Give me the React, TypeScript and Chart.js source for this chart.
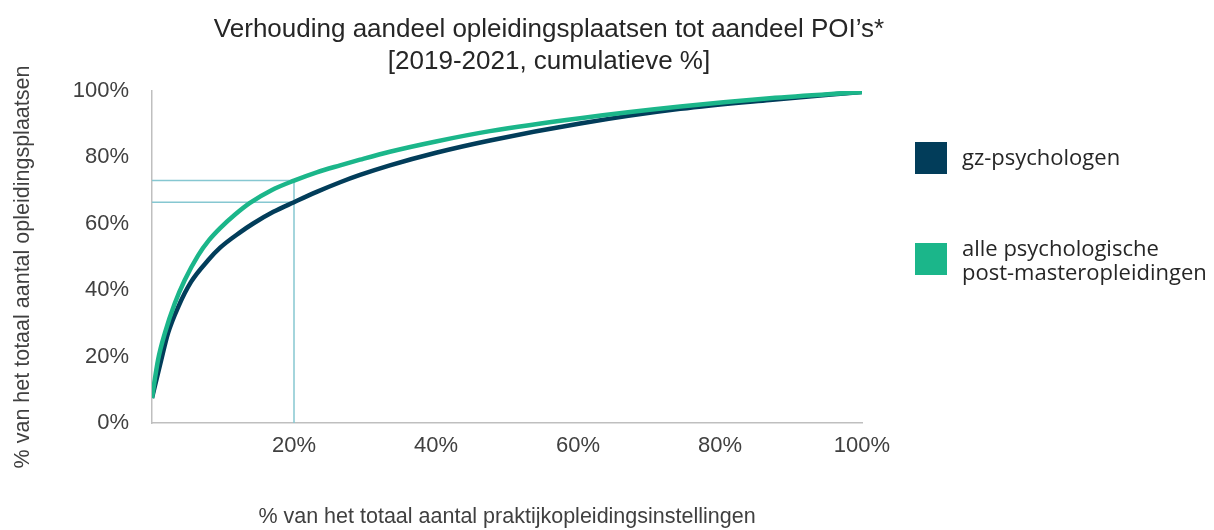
import React, { useEffect, useRef } from 'react';
import { Chart, registerables } from 'chart.js';

Chart.register(...registerables);

// ---- data (percent) ----
const gzX = [0, 1.3, 2.25, 3.7, 5.5, 7.9, 9.6, 12.4, 14.2, 17.1, 20, 23.2, 26.5, 29.3, 33.5, 40, 47.6, 60.3, 74.4, 87, 100];
const gzY = [7.5, 19, 27, 35, 42.5, 49, 52.8, 57.4, 60.0, 63.6, 66.5, 69.6, 72.5, 74.7, 77.6, 81.4, 85.1, 90.2, 94.6, 97.3, 99.7];

const allX = [0, 0.85, 1.8, 3.2, 4.6, 6.5, 8, 9.6, 11.7, 13.8, 16.9, 20, 23.2, 26.5, 29.3, 33.5, 40, 47.6, 60.3, 74.4, 87, 100];
const allY = [7.5, 19, 27, 36, 43, 50.5, 55, 58.7, 62.8, 66.3, 70.2, 73, 75.5, 77.6, 79.3, 81.7, 84.8, 87.9, 91.8, 95.3, 97.8, 99.7];

// reference lines at 20% of institutions
const refAllX = [0, 20, 20];
const refAllY = [73, 73, 0];
const refGzX = [0, 20];
const refGzY = [66.5, 66.5];

const seriesNames = ['gz-psychologen', 'alle psychologische post-masteropleidingen'];
const legendLines = [['gz-psychologen'], ['alle psychologische', 'post-masteropleidingen']];
const titleLines = ["Verhouding aandeel opleidingsplaatsen tot aandeel POI\u2019s*", '[2019-2021, cumulatieve %]'];
const xTitle = '% van het totaal aantal praktijkopleidingsinstellingen';
const yTitle = '% van het totaal aantal opleidingsplaatsen';

const DARK = '#023D5A';
const GREEN = '#1BB68A';
const REF = '#86C7D1';
const FONT = 'Liberation Sans';

const toPts = (xs: number[], ys: number[]) => xs.map((x, i) => ({ x, y: ys[i] }));

// y-axis title drawn slightly below the plot's vertical centre, as in the reference
const yTitlePlugin = {
  id: 'yTitleOffset',
  afterDraw(chart: any) {
    const { ctx, chartArea } = chart;
    ctx.save();
    ctx.font = `21.5px "${FONT}"`;
    ctx.fillStyle = '#404040';
    ctx.textAlign = 'center';
    ctx.textBaseline = 'middle';
    ctx.translate(23, (chartArea.top + chartArea.bottom) / 2 + 10);
    ctx.rotate(-Math.PI / 2);
    ctx.fillText(yTitle, 0, 0);
    ctx.restore();
  },
};

export default function App() {
  const ref = useRef<HTMLCanvasElement | null>(null);

  useEffect(() => {
    if (!ref.current) return;
    const chart = new Chart(ref.current, {
      type: 'line',
      data: {
        datasets: [
          {
            label: seriesNames[1],
            data: toPts(allX, allY),
            borderColor: GREEN,
            backgroundColor: GREEN,
            borderWidth: 4.5,
            pointRadius: 0,
            cubicInterpolationMode: 'monotone',
            fill: false,
          },
          {
            label: seriesNames[0],
            data: toPts(gzX, gzY),
            borderColor: DARK,
            backgroundColor: DARK,
            borderWidth: 4.5,
            pointRadius: 0,
            cubicInterpolationMode: 'monotone',
            fill: false,
          },
          {
            label: 'ref-all',
            data: toPts(refAllX, refAllY),
            borderColor: REF,
            borderWidth: 1.5,
            pointRadius: 0,
            tension: 0,
            fill: false,
          },
          {
            label: 'ref-gz',
            data: toPts(refGzX, refGzY),
            borderColor: REF,
            borderWidth: 1.5,
            pointRadius: 0,
            tension: 0,
            fill: false,
          },
        ],
      },
      options: {
        responsive: false,
        animation: false,
        layout: { padding: 0 },
        plugins: {
          legend: { display: false },
          tooltip: { enabled: false },
          title: {
            display: true,
            text: titleLines,
            color: '#262626',
            font: { family: FONT, size: 26, weight: 'normal', lineHeight: 1.23 },
            padding: { top: 14, bottom: 13 },
          },
        },
        scales: {
          x: {
            type: 'linear',
            min: 0,
            max: 100,
            grid: { display: false, drawTicks: false },
            border: { display: true, color: '#BFBFBF', width: 1.5 },
            ticks: {
              stepSize: 20,
              padding: 10,
              color: '#404040',
              font: { family: FONT, size: 22 },
              callback: (v: any) => (v === 0 ? '' : v + '%'),
            },
            title: {
              display: true,
              text: xTitle,
              color: '#404040',
              font: { family: FONT, size: 21.5 },
              padding: { top: 0, bottom: 0 },
            },
            afterFit: (s: any) => {
              s.height = 107;
            },
          },
          y: {
            type: 'linear',
            min: 0,
            max: 100,
            grid: { display: false, drawTicks: false },
            border: { display: true, color: '#BFBFBF', width: 1.5 },
            ticks: {
              stepSize: 20,
              padding: 23,
              color: '#404040',
              font: { family: FONT, size: 22 },
              callback: (v: any) => v + '%',
            },
            title: { display: false },
            afterFit: (s: any) => {
              s.width = 152;
            },
          },
          spacer: {
            type: 'linear',
            position: 'right',
            display: true,
            grid: { display: false, drawTicks: false },
            border: { display: false },
            ticks: { display: false },
            afterFit: (s: any) => {
              s.width = 236;
            },
          },
        },
      },
      plugins: [yTitlePlugin],
    });
    return () => chart.destroy();
  }, []);

  const legendColors = [DARK, GREEN];
  const legendTops = [142, 243];
  const textTops = [141, 235];

  return (
    <div style={{ position: 'fixed', left: 0, top: 0, width: 1214, height: 530, background: '#fff', overflow: 'hidden' }}>
      <canvas ref={ref} width={1098} height={530} style={{ position: 'absolute', left: 0, top: 0, width: 1098, height: 530 }} />
      {legendLines.map((lines, i) => (
        <div key={i}>
          <div
            style={{
              position: 'absolute',
              left: 915,
              top: legendTops[i],
              width: 32,
              height: 32,
              background: legendColors[i],
            }}
          />
          <div
            style={{
              position: 'absolute',
              left: 962,
              top: textTops[i],
              fontFamily: '"Open Sans", sans-serif',
              fontSize: 22,
              color: '#262626',
              whiteSpace: 'nowrap',
            }}
          >
            {lines.map((l, j) => (
              <div key={j} style={{ height: i === 0 ? 30 : 24, lineHeight: i === 0 ? '30px' : '24px' }}>
                {l}
              </div>
            ))}
          </div>
        </div>
      ))}
    </div>
  );
}
